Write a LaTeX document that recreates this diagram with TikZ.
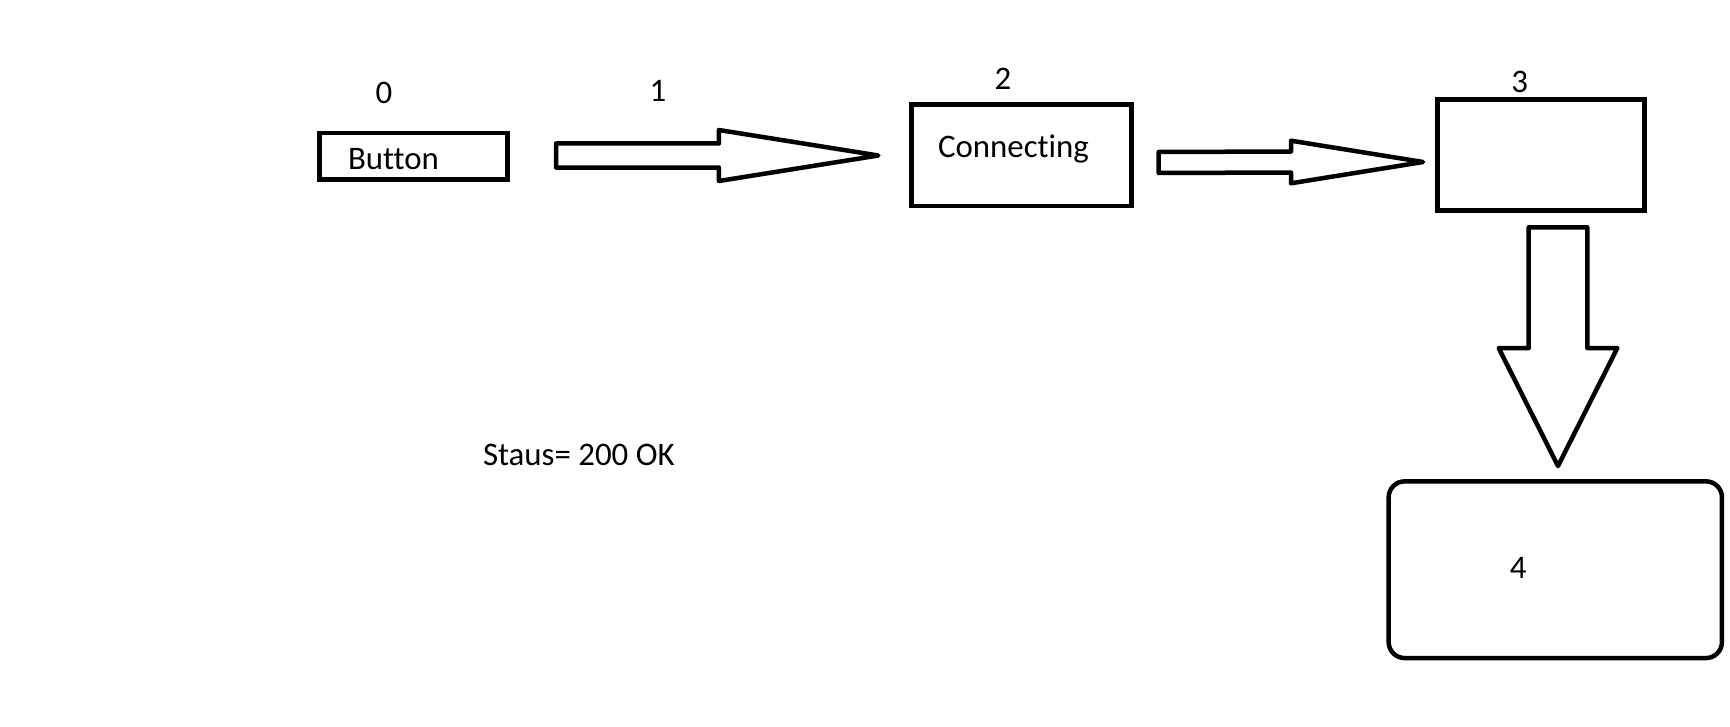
\documentclass[tikz,border=0pt]{standalone}
\usepackage{fontspec}
\setmainfont{Carlito}[Ligatures={NoCommon}]
\usetikzlibrary{calc}
\begin{document}
\begin{tikzpicture}[x=1bp,y=-1bp,
  box/.style={draw=black, line width=4.5bp, line join=miter, inner sep=0pt, outer sep=0pt},
  lbl/.style={inner sep=0pt, outer sep=0pt, text=black, font=\fontsize{33}{33}\selectfont},
  blockarrow/.style={draw=black, line width=4.5bp, line join=round, fill=white}]
\useasboundingbox[fill=white] (0,0) rectangle (1730,727);

% boxes
\node[box, minimum width=188bp, minimum height=46.7bp] (b0) at (413.3,156.3) {};
\node[box, minimum width=220bp, minimum height=101.3bp] (b2) at (1021.3,155.3) {};
\node[box, minimum width=207bp, minimum height=110.6bp] (b3) at (1541.2,155) {};
\node[box, rounded corners=16bp, minimum width=333.3bp, minimum height=176.7bp] (b4) at (1555.3,569.7) {};

% texts
\node[lbl, anchor=base west] (tbutton) at (348,170) {Button};
\node[lbl, anchor=base west] (tconn) at (938,157.3) {Connecting};
\node[lbl, anchor=base west] (tstatus) at (483,465) {Staus= 200 OK};
\node[lbl, anchor=base] (n0) at (384,104) {0};
\node[lbl, anchor=base] (n1) at (658,102) {1};
\node[lbl, anchor=base] (n2) at (1003,89.3) {2};
\node[lbl, anchor=base] (n3) at (1519.7,92.7) {3};
\node[lbl, anchor=base] (n4) at (1518.3,578.3) {4};

% arrow 1: Button -> Connecting
\coordinate (a1t) at ($(b0.east)+(48.7,-0.8)$);
\coordinate (a1h) at ($(b2.west)+(-33,0.2)$);
\draw[blockarrow] ($(a1t)+(0,-12)$) -- ($(a1h)+(-159.4,-12)$) -- ($(a1h)+(-159.4,-25.5)$)
  -- (a1h) -- ($(a1h)+(-159.4,25.5)$) -- ($(a1h)+(-159.4,12)$) -- ($(a1t)+(0,12)$) -- cycle;

% arrow 2: Connecting -> 3
\coordinate (a2t) at ($(b2.east)+(27.4,7.2)$);
\coordinate (a2h) at ($(b3.west)+(-14.7,7)$);
\draw[blockarrow] ($(a2t)+(0,-10.5)$) -- ($(a2h)+(-132,-10.5)$) -- ($(a2h)+(-132,-21.3)$)
  -- (a2h) -- ($(a2h)+(-132,21.3)$) -- ($(a2h)+(-132,10.5)$) -- ($(a2t)+(0,10.5)$) -- cycle;

% arrow 3: 3 -> 4
\coordinate (a3t) at ($(b3.south)+(16.8,17)$);
\coordinate (a3h) at ($(b4.north)+(2.7,-15.3)$);
\draw[blockarrow] ($(a3t)+(-29.3,0)$) -- ($(a3h)+(-29.3,-118)$) -- ($(a3h)+(-59.3,-118)$)
  -- (a3h) -- ($(a3h)+(59.3,-118)$) -- ($(a3h)+(29.3,-118)$) -- ($(a3t)+(29.3,0)$) -- cycle;
\end{tikzpicture}
\end{document}
